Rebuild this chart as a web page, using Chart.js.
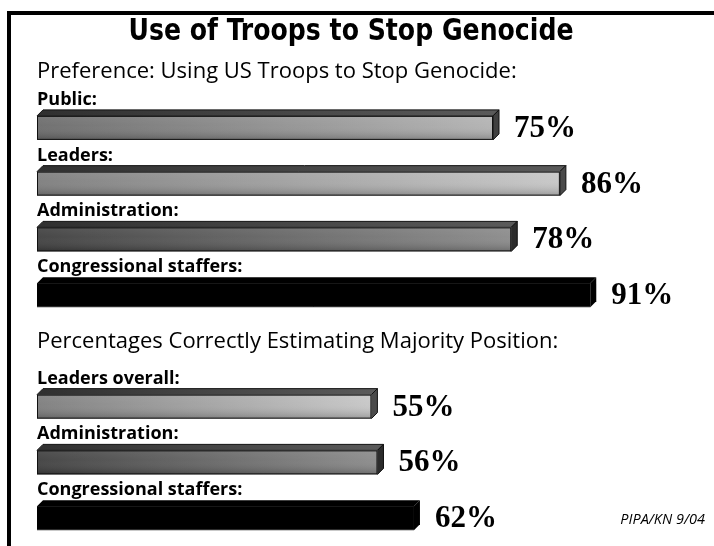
<!DOCTYPE html>
<html>
<head>
<meta charset="utf-8">
<script src="https://cdn.jsdelivr.net/npm/chart.js@4.4.0/dist/chart.umd.min.js"></script>
<style>
  html, body { margin: 0; padding: 0; background: #fff; overflow: hidden; }
  canvas { display: block; }
</style>
</head>
<body>
<canvas id="myChart" width="714" height="546"></canvas>
<script>
const chartTitle = 'Use of Troops to Stop Genocide';
const sectionTitles = ['Preference: Using US Troops to Stop Genocide:', 'Percentages Correctly Estimating Majority Position:'];
const categories = ['Public:', 'Leaders:', 'Administration:', 'Congressional staffers:', '', 'Leaders overall:', 'Administration:', 'Congressional staffers:'];
const values = [75, 86, 78, 91, null, 55, 56, 62];
const sourceNote = 'PIPA/KN 9/04';

// looks of each bar, same order as categories
const shades = ['mid', 'light', 'dark', 'black', null, 'light', 'dark', 'black'];
const palette = {
    light: ['#7c7c7c', '#c6c6c6', '#4a4a4a'],
    mid: ['#6a6a6a', '#b2b2b2', '#404040'],
    dark: ['#3e3e3e', '#8a8a8a', '#2c2c2c'],
    black: ['#000', '#000', '#000']
};
const depth = 6;

const bars3d = {
    id: 'bars3d',
    afterDatasetsDraw(chart) {
        const ctx = chart.ctx;
        const meta = chart.getDatasetMeta(0);
        meta.data.forEach((bar, i) => {
            if (values[i] == null) return;
            const p = bar.getProps(['x', 'y', 'base', 'height'], true);
            const left = p.base, right = p.x;
            const top = p.y - p.height / 2, bottom = p.y + p.height / 2;
            const c = palette[shades[i]];
            const isBlack = shades[i] === 'black';
            ctx.save();
            ctx.lineWidth = 1;
            ctx.strokeStyle = isBlack ? '#333' : '#111';

            // top face
            ctx.beginPath();
            ctx.moveTo(left, top);
            ctx.lineTo(left + depth, top - depth);
            ctx.lineTo(right + depth, top - depth);
            ctx.lineTo(right, top);
            ctx.closePath();
            let g = ctx.createLinearGradient(left, 0, right, 0);
            g.addColorStop(0, isBlack ? '#000' : '#303030');
            g.addColorStop(1, isBlack ? '#000' : '#5a5a5a');
            ctx.fillStyle = g;
            ctx.fill();
            if (!isBlack) ctx.stroke();

            // right face
            ctx.beginPath();
            ctx.moveTo(right, top);
            ctx.lineTo(right + depth, top - depth);
            ctx.lineTo(right + depth, bottom - depth);
            ctx.lineTo(right, bottom);
            ctx.closePath();
            ctx.fillStyle = c[2];
            ctx.fill();
            if (!isBlack) ctx.stroke();

            // front face
            g = ctx.createLinearGradient(left, 0, right, 0);
            g.addColorStop(0, c[0]);
            g.addColorStop(1, c[1]);
            ctx.fillStyle = g;
            ctx.fillRect(left, top, right - left, bottom - top);
            if (!isBlack) {
                const v = ctx.createLinearGradient(0, top, 0, bottom);
                v.addColorStop(0, 'rgba(255,255,255,0.10)');
                v.addColorStop(0.4, 'rgba(255,255,255,0.05)');
                v.addColorStop(1, 'rgba(0,0,0,0.22)');
                ctx.fillStyle = v;
                ctx.fillRect(left, top, right - left, bottom - top);
                ctx.strokeRect(left + 0.5, top + 0.5, right - left - 1, bottom - top - 1);
            } else {
                ctx.beginPath();
                ctx.moveTo(left, bottom - 0.5);
                ctx.lineTo(right, bottom - 0.5);
                ctx.stroke();
            }

            // category label above the bar
            ctx.fillStyle = '#000';
            ctx.textAlign = 'left';
            ctx.textBaseline = 'alphabetic';
            ctx.font = 'bold 18px "Open Sans"';
            ctx.fillText(categories[i], left, p.y - 23);

            // value label
            ctx.font = 'bold 31px "Liberation Serif"';
            ctx.textBaseline = 'middle';
            ctx.fillText(values[i] + '%', right + depth + 15, p.y + 1);
            ctx.restore();
        });
    },
    afterDraw(chart) {
        const ctx = chart.ctx;
        ctx.save();
        // frame
        ctx.fillStyle = '#000';
        ctx.fillRect(7, 11, 707, 4);
        ctx.fillRect(7, 11, 4, 535);

        // condensed title squeezed to the reference width
        ctx.textBaseline = 'alphabetic';
        ctx.textAlign = 'center';
        ctx.font = 'bold 31px "DejaVu Sans Condensed", "DejaVu Sans"';
        const w = ctx.measureText(chartTitle).width;
        ctx.save();
        ctx.translate(351, 40);
        ctx.scale(445 / w, 1);
        ctx.fillText(chartTitle, 0, 0);
        ctx.restore();

        ctx.textAlign = 'left';
        ctx.font = '22px "Open Sans"';
        ctx.fillText(sectionTitles[0], 37, 78);
        ctx.fillText(sectionTitles[1], 37, 348);

        ctx.textAlign = 'right';
        ctx.font = 'italic 14.5px "Open Sans"';
        ctx.fillText(sourceNote, 705, 524);
        ctx.restore();
    }
};

new Chart(document.getElementById('myChart'), {
    type: 'bar',
    data: {
        labels: categories,
        datasets: [{
            data: values,
            backgroundColor: 'rgba(0,0,0,0)',
            borderWidth: 0,
            barThickness: 24
        }]
    },
    options: {
        indexAxis: 'y',
        responsive: false,
        animation: false,
        layout: { padding: { left: 37, right: 69, top: 100, bottom: 0 } },
        scales: {
            x: { display: false, min: 0, max: 100 },
            y: { display: false }
        },
        plugins: {
            legend: { display: false },
            tooltip: { enabled: false },
            title: { display: false }
        }
    },
    plugins: [bars3d]
});
</script>
</body>
</html>
